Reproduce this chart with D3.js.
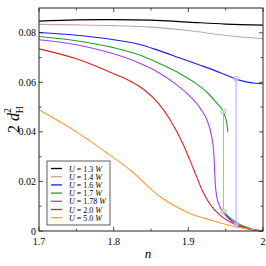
<!DOCTYPE html>
<html>
<head>
<meta charset="utf-8">
<script src="https://cdn.jsdelivr.net/npm/d3@7"></script>
<style>
  body { margin: 0; background: #fff; }
  svg { display: block; }
  text { font-family: 'Liberation Serif', 'DejaVu Serif', serif; }
</style>
</head>
<body>
<div id="chart"></div>
<script>
// curves: [n, 2 d_H^2]
const uLabels = ['1.3', '1.4', '1.6', '1.7', '1.78', '2.0', '5.0'];
const colors = ['#000000', '#c9a3a3', '#1a1aff', '#22a022', '#a43ee6', '#e02020', '#ff9a33'];

const u13 = [[1.7, 0.0847], [1.75, 0.0852], [1.8, 0.0853], [1.85, 0.0851], [1.9, 0.0843], [1.95, 0.0835], [2.0, 0.0831]];
const u14 = [[1.7, 0.0834], [1.75, 0.0832], [1.8, 0.0829], [1.85, 0.0823], [1.9, 0.0809], [1.95, 0.0789], [2.0, 0.0776]];
const u16 = [[1.7, 0.0801], [1.75, 0.0790], [1.8, 0.0772], [1.835, 0.0753], [1.86, 0.0729], [1.889, 0.0698],
  [1.915, 0.0670], [1.942, 0.0640], [1.963, 0.0614], [1.976, 0.0603], [1.99, 0.0596], [2.0, 0.0594]];
const u16low = [[1.948, 0.0075], [1.955, 0.0050], [1.964, 0.0027], [1.98, 0.0008], [2.0, 0.0]];
const u17 = [[1.7, 0.0785], [1.75, 0.0768], [1.8, 0.0740], [1.835, 0.0710], [1.86, 0.0678], [1.889, 0.0635],
  [1.909, 0.0598], [1.925, 0.0560], [1.94, 0.0510], [1.944, 0.0497], [1.947, 0.0482], [1.95, 0.0455],
  [1.952, 0.0425], [1.953, 0.0400]];
const u17low = [[1.947, 0.0078], [1.955, 0.0055], [1.97, 0.0025], [1.985, 0.0008], [2.0, 0.0]];
const u178 = [[1.7, 0.0772], [1.75, 0.0752], [1.8, 0.0715], [1.835, 0.0677], [1.86, 0.0640], [1.88, 0.0600],
  [1.9, 0.0550], [1.916, 0.0495], [1.926, 0.0440], [1.931, 0.0385], [1.934, 0.0320], [1.935, 0.0260],
  [1.936, 0.0195], [1.938, 0.0140], [1.942, 0.0100], [1.948, 0.0070], [1.956, 0.0045], [1.97, 0.0020],
  [1.985, 0.0006], [2.0, 0.0]];
const u20 = [[1.7, 0.0735], [1.75, 0.0695], [1.8, 0.0635], [1.82, 0.0608], [1.84, 0.0572], [1.86, 0.0515],
  [1.875, 0.0452], [1.893, 0.0350], [1.907, 0.0250], [1.92, 0.0155], [1.929, 0.0108], [1.942, 0.0065],
  [1.96, 0.0030], [1.978, 0.0011], [2.0, 0.0]];
const u50 = [[1.7, 0.0489], [1.752, 0.0396], [1.791, 0.0315], [1.822, 0.0246], [1.862, 0.0139], [1.902, 0.0071],
  [1.929, 0.0045], [1.96, 0.0019], [2.0, 0.0]];

// jumps between branches: [n, top, bottom]
const jumps = [
  { n: 1.964, top: 0.0614, bottom: 0.0027, color: '#a8a8ff' },
  { n: 1.947, top: 0.0482, bottom: 0.0078, color: '#88cc88' }
];

const xTicks = [1.7, 1.8, 1.9, 2.0];
const xTickLabels = ['1.7', '1.8', '1.9', '2'];
const yTicks = [0, 0.02, 0.04, 0.06, 0.08];
const yTickLabels = ['0', '0.02', '0.04', '0.06', '0.08'];

const width = 266;
const height = 266;
const margin = { top: 8, right: 3, bottom: 35, left: 39 };

const x = d3.scaleLinear().domain([1.7, 2.0]).range([margin.left, width - margin.right]);
const y = d3.scaleLinear().domain([0, 0.09]).range([height - margin.bottom, margin.top]);

const svg = d3.select('#chart').append('svg')
  .attr('width', width)
  .attr('height', height);

const line = d3.line()
  .x(d => x(d[0]))
  .y(d => y(d[1]))
  .curve(d3.curveMonotoneX);

// jump lines first so curves sit on top
svg.append('g')
  .selectAll('line')
  .data(jumps)
  .enter()
  .append('line')
  .attr('x1', d => x(d.n))
  .attr('x2', d => x(d.n))
  .attr('y1', d => y(d.top))
  .attr('y2', d => y(d.bottom))
  .attr('stroke', d => d.color)
  .attr('stroke-width', 1);

const curves = [
  { data: u13, c: 0 }, { data: u14, c: 1 }, { data: u16, c: 2 }, { data: u16low, c: 2 },
  { data: u17, c: 3 }, { data: u17low, c: 3 }, { data: u178, c: 4 }, { data: u20, c: 5 }, { data: u50, c: 6 }
];

svg.append('g')
  .selectAll('path')
  .data(curves)
  .enter()
  .append('path')
  .attr('d', d => line(d.data))
  .attr('fill', 'none')
  .attr('stroke', d => colors[d.c])
  .attr('stroke-width', 1.1);

// open markers at the jump ends
const markers = [];
jumps.forEach(j => {
  markers.push({ n: j.n, v: j.top, color: j.color });
  markers.push({ n: j.n, v: j.bottom, color: j.color });
});
svg.append('g')
  .selectAll('circle')
  .data(markers)
  .enter()
  .append('circle')
  .attr('cx', d => x(d.n))
  .attr('cy', d => y(d.v))
  .attr('r', 2.4)
  .attr('fill', 'rgba(255,255,255,0.5)')
  .attr('stroke', d => d.color)
  .attr('stroke-width', 1);

// frame
const x0 = margin.left;
const x1 = width - margin.right;
const y0 = height - margin.bottom;
const y1 = margin.top;
svg.append('rect')
  .attr('x', x0)
  .attr('y', y1)
  .attr('width', x1 - x0)
  .attr('height', y0 - y1)
  .attr('fill', 'none')
  .attr('stroke', '#222')
  .attr('stroke-width', 1);

// ticks on all sides, pointing in
const xMinor = d3.range(1.75, 2.0, 0.1);
const yMinor = d3.range(0.01, 0.09, 0.02);
const tickG = svg.append('g').attr('stroke', '#222').attr('stroke-width', 0.8);
xTicks.concat(xMinor).forEach((t, i) => {
  const len = i < xTicks.length ? 4 : 2.5;
  tickG.append('line').attr('x1', x(t)).attr('x2', x(t)).attr('y1', y0).attr('y2', y0 - len);
  tickG.append('line').attr('x1', x(t)).attr('x2', x(t)).attr('y1', y1).attr('y2', y1 + len);
});
yTicks.concat(yMinor).forEach((t, i) => {
  const len = i < yTicks.length ? 4 : 2.5;
  tickG.append('line').attr('y1', y(t)).attr('y2', y(t)).attr('x1', x0).attr('x2', x0 + len);
  tickG.append('line').attr('y1', y(t)).attr('y2', y(t)).attr('x1', x1).attr('x2', x1 - len);
});

svg.append('g')
  .selectAll('text')
  .data(xTicks)
  .enter()
  .append('text')
  .attr('x', d => x(d))
  .attr('y', y0 + 14)
  .attr('text-anchor', 'middle')
  .style('font-size', '10px')
  .text((d, i) => xTickLabels[i]);

svg.append('g')
  .selectAll('text')
  .data(yTicks)
  .enter()
  .append('text')
  .attr('x', x0 - 3)
  .attr('y', d => y(d) + 3.5)
  .attr('text-anchor', 'end')
  .style('font-size', '10px')
  .text((d, i) => yTickLabels[i]);

// axis titles
svg.append('text')
  .attr('x', (x0 + x1) / 2 - 3)
  .attr('y', 258)
  .attr('text-anchor', 'middle')
  .style('font-size', '13px')
  .style('font-style', 'italic')
  .text('n');

const yl = svg.append('text')
  .attr('transform', `translate(19, ${(y0 + y1) / 2}) rotate(-90)`)
  .attr('text-anchor', 'middle')
  .style('font-size', '16px');
yl.append('tspan').text('2 ');
yl.append('tspan').style('font-style', 'italic').text('d');
yl.append('tspan').attr('dy', 4).style('font-size', '10px').text('H');
yl.append('tspan').attr('dx', -7).attr('dy', -12).style('font-size', '10px').text('2');

// legend
const lg = svg.append('g');
lg.append('rect')
  .attr('x', 47)
  .attr('y', 161)
  .attr('width', 63)
  .attr('height', 64)
  .attr('fill', '#fff')
  .attr('stroke', '#333')
  .attr('stroke-width', 0.8);

const rows = lg.selectAll('g.row')
  .data(uLabels)
  .enter()
  .append('g')
  .attr('class', 'row')
  .attr('transform', (d, i) => `translate(0, ${168.5 + i * 8.2})`);

rows.append('line')
  .attr('x1', 51)
  .attr('x2', 62)
  .attr('stroke', (d, i) => colors[i])
  .attr('stroke-width', 1.3);

const lt = rows.append('text')
  .attr('x', 69)
  .attr('y', 3)
  .style('font-size', '8px');
lt.append('tspan').style('font-style', 'italic').text('U');
lt.append('tspan').text(d => ` = ${d} `);
lt.append('tspan').style('font-style', 'italic').text('W');
</script>
</body>
</html>
